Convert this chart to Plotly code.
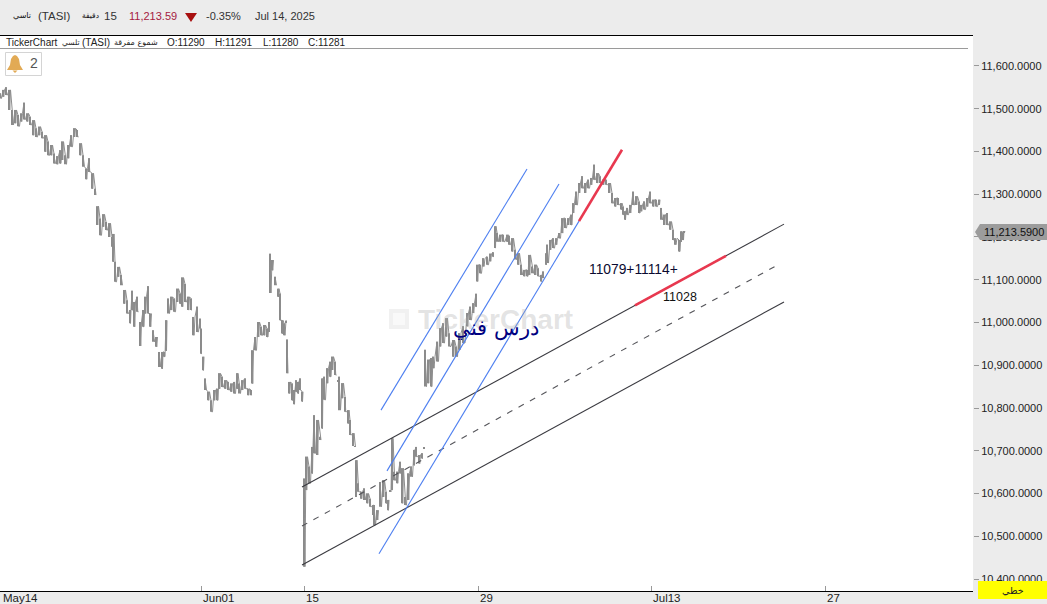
import plotly.graph_objects as go

# ---- data ------------------------------------------------------------
bar_no = [0,3,6,9,12,15,18,21,24,27,30,33,36,39,42,45,48,51,54,57,60,62,65,68,71,74,77,80,83,86,89,92,95,
97,100,103,106,109,112,113,115,118,121,124,127,130,132,134,137,140,143,145,148,150,153,156,159,162,164,166,168,171,174,177,180,182,185,188,191,193,197,200,201,203,205,208,211,214,217,219,222,225,228,231,234,237,239,242,245,248,251,252,255,258,261,264,267,269,270,272,275,278,280,282,284,286,287,289,292,294,
296,298,300,302,304,306,309,312,314,317,320,322,324,327,330,332,335,338,339,342,345,348,350,353,355,
356,358,361,364,367,370,373,374,377,380,383,386,388,390,392,394,397,400,402,405,408,411,414,416,419,422,424,
425,428,431,433,437,440,443,446,449,453,456,459,463,467,470,473,476,477,480,483,487,490,493,495,497,500,503,507,509,512,515,518,521,524,527,529,532,535,538,541,543,546,547,550,553,556,559,562,565,568,571,573,576,579,582,585,588,591,594,597,600,603,606,609,612,615,618,621,623,625,627,630,633,636,639,641,644,647,650,653,656,659,661,664,667,670,673,675,679,681,683,684]
highs = [11536,11544,11550,11544,11497,11497,11485,11489,11514,11489,11481,11473,11454,11458,11446,11438,11423,11415,11395,11389,11403,11423,11391,11415,11438,11454,11450,11419,11391,11360,11384,11349,11313,
11272,11243,11253,11235,11232,11200,11207,11142,11130,11111,11076,11052,11029,11074,11048,11060,11001,11029,11060,11085,11021,10982,10966,10931,10931,10931,11005,11056,11060,11056,11079,11068,11105,11090,11060,11056,11013,11037,11009,10986,10920,10869,10838,10818,10842,10845,10881,10873,10865,10861,10857,10861,10881,10857,10865,10869,10845,10842,10935,10966,11001,10990,10994,10986,11001,11161,11146,11107,11079,11068,11005,10998,11004,10960,10861,10857,10842,
10865,10861,10869,10838,10635,10686,10663,10709,10783,10772,10733,10869,10873,10893,10908,10920,10908,10865,10873,10858,10826,10795,10772,10741,10711,
10678,10624,10604,10612,10600,10588,10573,10573,10561,10627,10631,10604,10585,10608,10729,10651,10651,10674,10659,10592,10647,10663,10702,10709,10690,10694,10708,
10936,10913,10917,10920,10955,10987,10998,11010,10975,10959,10944,10975,10991,11022,11037,11045,11067,11135,11135,11150,11154,11161,11164,11225,11209,11205,11205,11205,11203,11197,11170,11162,11135,11123,11123,11158,11131,11135,11127,11111,11119,11162,11182,11193,11197,11197,11209,11244,11244,11244,11252,11279,11306,11326,11342,11326,11334,11338,11369,11349,11342,11334,11334,11326,11303,11291,11291,11279,11271,11260,11268,11275,11306,11295,11283,11275,11283,11291,11306,11287,11287,11287,11268,11252,11256,11236,11217,11197,11193,11213,11209,11213]
lows = [11524,11528,11532,11497,11462,11466,11459,11470,11475,11470,11462,11438,11434,11438,11431,11399,11391,11391,11372,11370,11372,11380,11370,11384,11411,11434,11434,11391,11364,11335,11352,11313,11298,
11228,11204,11224,11216,11200,11177,11142,11095,11107,11087,11044,11021,10998,11029,10990,11025,10945,10990,11021,11021,10990,10955,10943,10896,10892,10920,10934,11021,11029,11025,11048,11044,11037,11048,11029,11029,10970,10978,10986,10927,10888,10842,10818,10791,10818,10818,10845,10849,10845,10842,10838,10834,10845,10834,10842,10845,10830,10830,10857,10935,10966,10970,10970,10966,10978,11069,11122,11087,11060,11005,10974,10970,10999,10881,10834,10818,10809,
10838,10834,10842,10815,10429,10608,10624,10647,10694,10690,10725,10752,10819,10858,10873,10889,10877,10861,10795,10823,10791,10764,10737,10711,10709,
10592,10604,10588,10585,10577,10569,10550,10526,10538,10569,10592,10577,10561,10604,10608,10631,10624,10647,10577,10573,10585,10639,10666,10686,10670,10682,10706,
10850,10858,10850,10893,10909,10944,10952,10967,10944,10920,10920,10936,10952,10991,11006,11022,11037,11096,11115,11131,11135,11143,11154,11174,11189,11189,11189,11189,11182,11166,11147,11135,11111,11108,11108,11111,11115,11111,11108,11096,11104,11135,11139,11170,11174,11182,11197,11209,11221,11228,11228,11256,11275,11303,11314,11303,11314,11322,11334,11326,11326,11322,11322,11303,11279,11271,11275,11264,11252,11240,11252,11256,11275,11275,11256,11260,11264,11271,11279,11271,11271,11275,11240,11228,11228,11217,11193,11182,11166,11189,11193,11211]

price_ticks = [11600,11500,11400,11300,11200,11100,11000,10900,10800,10700,10600,10500,10400]
date_ticks = [1,201,304,478,651,825]
date_labels = ["May14","Jun01","15","29","Jul13","27"]

channel_x = [302,784]
channel_upper = [10615,11230]
channel_lower = [10433,11048]
channel_mid_x = [302,778]
channel_mid = [10524,11135]
blue1_x, blue1 = [381,527], [10795,11359]
blue2_x, blue2 = [387,559], [10653,11324]
blue3_x, blue3 = [379,579], [10459,11237]
red1_x, red1 = [579,622], [11237,11404]
red2_x, red2 = [635,726], [11040,11156]

last_price = "11,213.5900"

# ---- frame geometry ---------------------------------------------------
W, H = 1047, 604
L, R, T, B = 0, 973, 36, 591
def px(x): return (x - L) / (R - L)
def py(y): return (B - y) / (B - T)

fig = go.Figure()

# Each session's high-low range is one thin stroke; neighbouring strokes are joined
# unless the price gapped between them, so the candles read as one ragged grey band.
trace_x, trace_y = [], []
for i, (b, h, l) in enumerate(zip(bar_no, highs, lows)):
    if i and (h < lows[i - 1] - 4 or l > highs[i - 1] + 4):
        trace_x.append(None)
        trace_y.append(None)
    step = 1.0 if i + 1 == len(bar_no) else max(0.5, (bar_no[i + 1] - b) / 2)
    trace_x += [b, b + step * 0.5, b + step]
    trace_y += [h, l, h if i % 2 else l]
fig.add_trace(go.Scatter(x=trace_x, y=trace_y, mode="lines", line=dict(color="#8e8e8e", width=1.0),
                         connectgaps=False, hoverinfo="skip"))
fig.add_trace(go.Bar(x=bar_no, y=[h - l for h, l in zip(highs, lows)], base=lows, width=0.9,
                     marker=dict(color="#8a8a8a", line=dict(width=0)), hoverinfo="skip"))

def line(x, y, color, width, dash="solid"):
    fig.add_trace(go.Scatter(x=x, y=y, mode="lines", line=dict(color=color, width=width, dash=dash), hoverinfo="skip"))

line(channel_x, channel_upper, "#3a3a40", 1.1)
line(channel_x, channel_lower, "#3a3a40", 1.1)
line(channel_mid_x, channel_mid, "#55555a", 1.1, "6px,7px")
line(blue1_x, blue1, "#4d7ff0", 1.1)
line(blue2_x, blue2, "#4d7ff0", 1.1)
line(blue3_x, blue3, "#4d7ff0", 1.1)
line(red1_x, red1, "#e8384f", 2.6)
line(red2_x, red2, "#e8384f", 2.6)

ann = []
def text(x, y, s, size=11, color="#222", family="Liberation Sans", anchor="left", bold=False):
    t = f"<b>{s}</b>" if bold else s
    ann.append(dict(x=px(x), y=py(y), xref="paper", yref="paper", text=t, showarrow=False, xanchor=anchor,
                    yanchor="middle", font=dict(size=size, color=color, family=family),
                    borderpad=0, bgcolor="rgba(0,0,0,0)"))

# header
text(12, 16, "تاسي", 8, "#111", "DejaVu Sans")
text(37, 16, "(TASI)", 11.5, "#333")
text(81, 16, "دقيقة", 7.5, "#111", "DejaVu Sans")
text(103, 16, "15", 11.5, "#333")
text(128, 16, "11,213.59", 11, "#a5203f")
text(205, 16, "-0.35%", 11, "#333")
text(254, 16, "Jul 14, 2025", 11, "#333")
# info row
text(5, 42, "TickerChart", 10, "#222")
text(61, 42, "تلسي", 7.5, "#222", "DejaVu Sans")
text(81, 42, "(TASI)", 10, "#222")
text(113, 42, "شموع مفرقة", 8, "#222", "DejaVu Sans")
text(166, 42, "O:11290", 10, "#222")
text(214, 42, "H:11291", 10, "#222")
text(262, 42, "L:11280", 10, "#222")
text(307, 42, "C:11281", 10, "#222")
text(29, 63, "2", 14, "#555")
# watermark
text(417, 319, "TickerChart", 28, "rgba(170,170,170,0.32)", bold=True)
# drawing labels
text(588, 269, "11079+11114+", 13.8, "#0a0a30")
text(662, 297, "11028", 12.5, "#111")
text(496, 328, "درس فني", 21, "#000080", "DejaVu Serif", anchor="center")
# axis date labels
for t, s in zip(date_ticks, date_labels):
    text(t + 1, 598, s, 11.5, "#222")
# price tag + yellow scale-mode box
text(983, 232, last_price, 11, "#111")
text(1013, 590, "خطي", 9.5, "#222", "DejaVu Sans", anchor="center")

def rect(x0, y0, x1, y1, fill, color=None, w=0):
    return dict(type="rect", xref="paper", yref="paper", x0=px(x0), x1=px(x1), y0=py(y0), y1=py(y1),
                fillcolor=fill, line=dict(color=color or fill, width=w), layer="above")
def poly(points, fill):
    d = "M " + " L ".join(f"{px(a):.5f},{py(b):.5f}" for a, b in points) + " Z"
    return dict(type="path", path=d, xref="paper", yref="paper", fillcolor=fill, line=dict(width=0), layer="above")

shapes = [
    rect(0, 35, 973, 36, "#000000"),
    rect(0, 591, 973, 592, "#000000"),
    rect(0, 48, 968, 49, "#9a9a9a"),
    rect(5.5, 52.5, 41.5, 75.5, "#ffffff", "#d4d4d4", 1),
    poly([(15, 55), (17, 56), (19, 59), (20, 65), (23, 70), (7, 70), (10, 65), (11, 59), (13, 56)], "#e2aa55"),
    poly([(12.5, 70.5), (17.5, 70.5), (15, 73)], "#e2aa55"),
    poly([(185, 13), (197, 13), (191, 22)], "#a81010"),
    poly([(975, 232), (980, 224), (1047, 224), (1047, 240), (980, 240)], "#9c9c9c"),
    rect(978, 581, 1047, 599, "#ffff00"),
    rect(389, 309, 409, 329, "rgba(170,170,170,0.16)"),
    rect(393, 313, 405, 325, "rgba(255,255,255,0.6)"),
]

fig.update_layout(
    width=W, height=H, autosize=False, showlegend=False, barmode="overlay",
    paper_bgcolor="#ececec", plot_bgcolor="#ffffff",
    margin=dict(l=L, r=W - R, t=T, b=H - B, pad=0),
    xaxis=dict(range=[L, R], tickmode="array", tickvals=date_ticks, ticktext=[""] * len(date_ticks),
               ticks="inside", ticklen=5, tickcolor="#999", showgrid=False, zeroline=False, showline=False, fixedrange=True),
    yaxis=dict(range=[10372, 11670], side="right", tickmode="array", tickvals=price_ticks, tickformat=",.4f",
               ticks="outside", ticklen=5, tickcolor="#999", showgrid=False, zeroline=False, showline=False,
               tickfont=dict(family="Liberation Sans", size=11, color="#222"), fixedrange=True),
    annotations=ann, shapes=shapes,
)
fig.write_html("out.html", config={"displayModeBar": False},
               post_script="document.body.style.margin='0';document.body.style.overflow='hidden';")
